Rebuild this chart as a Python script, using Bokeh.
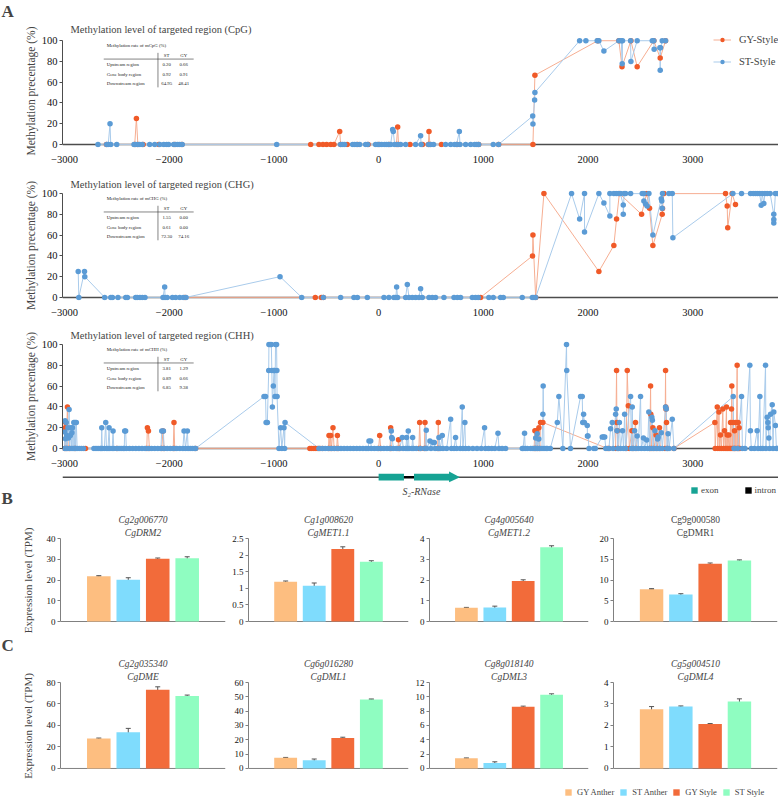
from bokeh.plotting import figure
from bokeh.layouts import column, row
from bokeh.models import (Range1d, FactorRange, Span, Label, Legend, LegendItem, Title,
                          Whisker, TeeHead, ColumnDataSource, FixedTicker, NumeralTickFormatter)
from bokeh.embed import file_html
from bokeh.resources import INLINE
from bokeh.core.properties import value

SERIF = "Liberation Serif"
AX = "#4d4d4d"
GY_PT, GY_LN = "#F05A28", "#F6AE92"
ST_PT, ST_LN = "#5B9BD5", "#A9CBEB"
NAN = float("nan")

# ---------------- methylation data: (position in bp, methylation %) ----------------
cpg_st = [(-2681, 0), (-2598, 0), (-2583, 0), (-2566, 20), (-2559, 0), (-2502, 0),
          (-2337, 0), (-2321, 0), (-2302, 0), (-2283, 0), (-2258, 0), (-2187, 0), (-2139, 0),
          (-2091, 0), (-2053, 0), (-2025, 0), (-2006, 0), (-1958, 0), (-1939, 0), (-1920, 0),
          (-1900, 0), (-1876, 0), (-974, 0), (-363, 0), (-344, 0), (-325, 0), (-248, 0), (-229, 0),
          (-210, 0), (-181, 0), (-124, 0), (-105, 0), (-29, 0), (-10, 0), (10, 0), (29, 0), (57, 0),
          (76, 0), (95, 0), (115, 0), (134, 14.3), (140, 12.5), (153, 0), (181, 0), (210, 0), (258, 0),
          (353, 0), (401, 8.3), (406, 0), (478, 0), (497, 0), (525, 0), (640, 0), (688, 0), (726, 0),
          (745, 0), (771, 12.5), (777, 0), (831, 0), (879, 0), (917, 0), (936, 0), (955, 0), (1095, 0),
          (1146, 0), (1472, 27.3), (1474, 19.7), (1490, 42.7), (1493, 50), (1920, 100), (1980, 100),
          (2088, 100), (2104, 100), (2152, 90), (2295, 100), (2318, 100), (2327, 77.8), (2330, 100),
          (2407, 100), (2410, 80), (2470, 100), (2614, 100), (2629, 100), (2632, 91.7), (2687, 93.3),
          (2690, 71.4), (2693, 93.3), (2709, 100), (2741, 100)]
cpg_gy = [(-2600, 0), (-2330, 0), (-2314, 25), (-2300, 0), (-2250, 0), (-2100, 0), (-1950, 0),
          (-1880, 0), (-649, 0), (-570, 0), (-532, 0), (-497, 0), (-458, 0), (-427, 0), (-372, 12.5),
          (-363, 0), (-300, 0), (-200, 0), (-100, 0), (0, 0), (100, 0), (170, 0), (182, 16.7), (190, 0),
          (300, 0), (420, 0), (475, 0), (481, 12.5), (490, 0), (600, 0), (750, 0), (955, 0), (1146, 0),
          (1474, 0), (1493, 66.7), (2094, 100), (2295, 100), (2325, 75), (2410, 100), (2470, 75),
          (2629, 100), (2690, 83.3), (2741, 100)]

chg_st = [(-2870, 25), (-2864, 0), (-2810, 25), (-2807, 20), (-2617, 0), (-2559, 0), (-2543, 0),
          (-2490, 0), (-2416, 0), (-2400, 0), (-2321, 0), (-2305, 0), (-2280, 0), (-2257, 0), (-2232, 0),
          (-2060, 0), (-2044, 10), (-2040, 0), (-2020, 0), (-1970, 0), (-1939, 0), (-1900, 0), (-1865, 0),
          (-1840, 0), (-942, 20), (-735, 0), (-528, 0), (-363, 0), (-236, 0), (-203, 0), (-108, 0),
          (51, 0), (98, 0), (146, 0), (165, 0), (172, 10), (181, 0), (258, 0), (274, 12.5), (290, 0),
          (322, 0), (353, 0), (385, 0), (401, 8.3), (417, 0), (481, 0), (513, 0), (544, 0), (624, 0),
          (720, 0), (752, 0), (783, 0), (895, 0), (926, 0), (952, 0), (1053, 0), (1095, 0), (1165, 0),
          (1191, 0), (1372, 0), (1468, 0), (1484, 0), (1500, 0), (1843, 100), (1920, 75.6), (1967, 100),
          (1967, 62.9), (2104, 100), (2152, 91), (2209, 78.4), (2209, 100), (2247, 100), (2270, 100),
          (2290, 100), (2310, 100), (2337, 89), (2337, 80), (2345, 100), (2359, 100), (2407, 100),
          (2518, 100), (2534, 100), (2534, 93), (2550, 90), (2565, 88), (2582, 100), (2620, 60),
          (2700, 95), (2705, 93), (2709, 86), (2712, 100), (2773, 100), (2805, 100), (2811, 57.5),
          (3384, 100), (3467, 100), (3553, 100), (3580, 100), (3600, 100), (3620, 100), (3640, 100),
          (3655, 88.9), (3665, 100), (3680, 90.5), (3690, 100), (3712, 100), (3740, 100), (3775, 80),
          (3775, 75), (3775, 71.7), (3790, 100), (3807, 100)]
chg_gy = [(-1850, 0), (-605, 0), (-547, 0), (-528, 0), (974, 0), (1470, 40), (1474, 60), (1500, 0),
          (1579, 100), (2104, 25), (2247, 50), (2273, 75.6), (2300, 100), (2512, 80), (2560, 100),
          (2588, 86), (2620, 50), (2709, 80), (2712, 85.7), (2725, 100), (3314, 100), (3330, 88),
          (3335, 67), (3377, 100), (3409, 89.5)]

chh_st = [(-3000, 0), (-2998, 15.7), (-2995, 26.7), (-2992, 9.4), (-2988, 0), (-2985, 25), (-2980, 12.5),
          (-2975, 0), (-2968, 20), (-2963, 10), (-2957, 37.5), (-2952, 0), (-2945, 12.5), (-2940, 20),
          (-2935, 0), (-2930, 15), (-2925, 20), (-2920, 0), (-2912, 25), (-2908, 0), (-2900, 25),
          (-2895, 0), (-2888, 25), (-2880, 0), (-2860, 0), (-2840, 0), (-2820, 0), (-2720, 0), (-2700, 0),
          (-2680, 0), (-2660, 0), (-2650, 0), (-2645, 20), (-2640, 0), (-2620, 0), (-2607, 25), (-2600, 0),
          (-2585, 0), (-2575, 20), (-2568, 0), (-2545, 0), (-2537, 16.7), (-2530, 0), (-2500, 0),
          (-2480, 0), (-2460, 0), (-2440, 0), (-2430, 0), (-2426, 16.7), (-2417, 16.7), (-2410, 0),
          (-2380, 0), (-2350, 0), (-2320, 0), (-2290, 0), (-2260, 0), (-2230, 0), (-2200, 0), (-2170, 0),
          (-2140, 0), (-2110, 0), (-2080, 0), (-2072, 16.7), (-2056, 16.7), (-2050, 0), (-2020, 0),
          (-1990, 0), (-1960, 0), (-1930, 0), (-1900, 0), (-1870, 0), (-1859, 16.7), (-1845, 0),
          (-1827, 16.7), (-1820, 0), (-1800, 0), (-1780, 0), (-1760, 0), (-1748, 0), (-1095, 50),
          (-1080, 50), (-1075, 25), (-1063, 25), (-1050, 75), (-1048, 100), (-1035, 100), (-1025, 100),
          (-1020, 75), (-1015, 40), (-1006, 60), (-1000, 75), (-995, 75), (-990, 50), (-985, 100),
          (-975, 100), (-972, 75), (-970, 50), (-952, 0), (-936, 20), (-925, 0), (-904, 20), (-898, 0),
          (-894, 25), (-570, 0), (-540, 0), (-510, 0), (-480, 0), (-450, 0), (-420, 0), (-390, 0),
          (-360, 0), (-330, 0), (-300, 0), (-270, 0), (-240, 0), (-210, 0), (-180, 0), (-150, 0),
          (-120, 0), (-100, 0), (-92, 7), (-76, 7), (-70, 0), (-40, 0), (-10, 0), (20, 0), (50, 0),
          (80, 0), (110, 0), (121, 16.7), (125, 10.4), (131, 9.4), (140, 0), (170, 0), (200, 0),
          (226, 10.4), (235, 0), (260, 0), (267, 10.4), (275, 0), (283, 16.7), (290, 0), (318, 0),
          (325, 10.4), (333, 0), (360, 0), (400, 0), (440, 0), (455, 17.4), (460, 0), (490, 7), (500, 0),
          (520, 5.6), (532, 5.6), (540, 0), (570, 0), (576, 10.4), (590, 0), (608, 12.5), (615, 0),
          (650, 0), (688, 28), (695, 0), (720, 0), (735, 10.4), (745, 0), (780, 0), (799, 40), (805, 0),
          (824, 25), (830, 0), (860, 0), (900, 0), (940, 0), (980, 0), (1012, 20), (1020, 0), (1050, 0),
          (1080, 0), (1110, 0), (1140, 14.6), (1150, 0), (1180, 0), (1213, 0), (1372, 0), (1380, 0),
          (1394, 14.6), (1400, 0), (1420, 0), (1452, 0), (1470, 0), (1490, 0), (1500, 10), (1505, 0),
          (1515, 14), (1520, 0), (1530, 9), (1540, 0), (1560, 0), (1569, 33), (1572, 60), (1580, 0),
          (1600, 0), (1611, 0), (1640, 0), (1707, 25), (1722, 50), (1760, 0), (1795, 100), (1797, 75),
          (1833, 0), (1929, 50), (1945, 50), (1950, 25), (1958, 33), (1965, 25), (1993, 22), (1995, 12),
          (2000, 12), (2010, 0), (2056, 0), (2070, 0), (2136, 11), (2148, 11), (2160, 11), (2170, 0),
          (2200, 0), (2216, 19), (2232, 25), (2240, 0), (2264, 33), (2270, 38), (2278, 17), (2285, 0),
          (2300, 25), (2310, 0), (2330, 17), (2340, 0), (2350, 33), (2360, 0), (2407, 50), (2415, 0),
          (2423, 40), (2430, 0), (2445, 17), (2452, 0), (2470, 12), (2480, 0), (2502, 50), (2510, 0),
          (2530, 10), (2540, 0), (2560, 8), (2570, 0), (2581, 35), (2590, 0), (2610, 30), (2615, 27),
          (2620, 0), (2640, 17), (2650, 0), (2665, 9), (2670, 11), (2680, 0), (2700, 15), (2710, 0),
          (2741, 40), (2748, 38), (2755, 0), (2765, 14), (2775, 0), (2805, 28), (2821, 0), (3387, 50),
          (3395, 0), (3430, 0), (3467, 50), (3475, 0), (3500, 0), (3546, 80), (3552, 17), (3560, 0),
          (3590, 0), (3616, 17), (3625, 0), (3642, 50), (3650, 0), (3670, 0), (3696, 80), (3700, 0),
          (3712, 30), (3718, 25), (3722, 20), (3728, 10), (3735, 0), (3744, 33), (3760, 42), (3768, 0),
          (3775, 35), (3791, 22), (3800, 0), (3807, 0)]
chh_gy = [(-3000, 0), (-2995, 20), (-2990, 25), (-2985, 0), (-2973, 40), (-2965, 0), (-2950, 0),
          (-2900, 0), (-2800, 0), (-2500, 0), (-2215, 0), (-2209, 20), (-2199, 16.7), (-2190, 0),
          (-2072, 0), (-2060, 16.7), (-2050, 0), (-1962, 0), (-1955, 25), (-1948, 0), (-1750, 0),
          (-657, 0), (-640, 0), (-620, 0), (-600, 0), (-580, 0), (-560, 0), (-535, 0), (-480, 0),
          (-474, 12.5), (-465, 0), (-458, 12.5), (-450, 0), (-436, 20), (-425, 0), (-400, 0),
          (-394, 12.5), (-385, 0), (0, 0), (10, 12.5), (20, 0), (110, 0), (115, 20), (120, 0), (185, 0),
          (190, 8.3), (200, 0), (385, 0), (392, 25), (400, 0), (436, 0), (443, 25), (450, 0), (563, 0),
          (570, 25), (578, 0), (1485, 0), (1493, 17), (1500, 0), (1510, 17), (1520, 0), (1531, 20),
          (1540, 0), (1547, 25), (1569, 25), (2184, 0), (2200, 0), (2264, 0), (2273, 75), (2276, 25),
          (2280, 17), (2290, 0), (2365, 0), (2375, 75), (2385, 41), (2395, 0), (2420, 17), (2430, 0),
          (2454, 25), (2462, 0), (2590, 0), (2598, 60), (2600, 33), (2605, 0), (2620, 20), (2630, 0),
          (2650, 13), (2660, 0), (2683, 20), (2690, 0), (2735, 0), (2741, 75), (2743, 40), (2745, 38),
          (2750, 25), (2760, 0), (2821, 0), (3212, 25), (3215, 0), (3235, 40), (3240, 0), (3251, 35),
          (3258, 0), (3266, 13), (3275, 0), (3288, 38), (3295, 0), (3304, 17), (3312, 0), (3323, 40),
          (3326, 0), (3330, 13), (3338, 0), (3346, 13), (3354, 0), (3362, 25), (3366, 0), (3371, 38),
          (3374, 60), (3380, 0), (3387, 25), (3395, 0), (3400, 17), (3404, 0), (3409, 25), (3415, 0),
          (3425, 80), (3430, 0), (3435, 25), (3440, 0), (3444, 20), (3450, 0)]

rate_tables = {
    "CpG": [("Upstream region", "0.20", "0.66"), ("Gene body region", "0.92", "0.91"),
            ("Downstream region", "64.95", "48.41")],
    "CHG": [("Upstream region", "1.55", "0.00"), ("Gene body region", "0.61", "0.00"),
            ("Downstream region", "72.30", "74.16")],
    "CHH": [("Upstream region", "3.81", "1.29"), ("Gene body region", "0.89", "0.66"),
            ("Downstream region", "6.85", "9.38")],
}
meth_x_ticks = [-3000, -2000, -1000, 0, 1000, 2000, 3000]
meth_y_ticks = [0, 20, 40, 60, 80, 100]

# gene structure (bp)
exon_start = [0, 338]
exon_end = [242, 777]
intron_start = [242]
intron_end = [338]
gene_label = "S\u2082-RNase"

# ---------------- expression data (TPM) ----------------
samples = ["GY Anther", "ST Anther", "GY Style", "ST Style"]
sample_colors = ["#FDBE80", "#7FDCFD", "#F26B3A", "#8FFDC1"]

genes_B = [("Cg2g006770", "CgDRM2", True), ("Cg1g008620", "CgMET1.1", True),
           ("Cg4g005640", "CgMET1.2", True), ("Cg9g000580", "CgDMR1", False)]
vals_B = [[21.8, 20.1, 30.2, 30.5], [1.20, 1.08, 2.18, 1.80], [0.66, 0.67, 1.95, 3.58], [7.8, 6.5, 13.9, 14.7]]
errs_B = [[0.3, 1.0, 0.4, 0.7], [0.02, 0.08, 0.07, 0.03], [0.02, 0.07, 0.06, 0.07], [0.12, 0.2, 0.2, 0.15]]
ymax_B = [40, 2.5, 4, 20]
ticks_B = [[0, 10, 20, 30, 40], [0, 0.5, 1, 1.5, 2, 2.5], [0, 1, 2, 3, 4], [0, 5, 10, 15, 20]]

genes_C = [("Cg2g035340", "CgDME", True), ("Cg6g016280", "CgDML1", True),
           ("Cg8g018140", "CgDML3", True), ("Cg5g004510", "CgDML4", True)]
vals_C = [[27.8, 33.8, 73.2, 67.5], [7.4, 5.8, 21.3, 48.2], [1.42, 0.78, 8.6, 10.3], [2.76, 2.88, 2.07, 3.12]]
errs_C = [[0.5, 3.5, 2.8, 0.8], [0.3, 0.8, 0.5, 0.3], [0.05, 0.15, 0.1, 0.12], [0.12, 0.03, 0.02, 0.12]]
ymax_C = [80, 60, 12, 4]
ticks_C = [[0, 20, 40, 60, 80], [0, 10, 20, 30, 40, 50, 60], [0, 2, 4, 6, 8, 10, 12], [0, 1, 2, 3, 4]]

# ---------------- layout constants ----------------
W = 778
M_LEFT = 62
X_RANGE = (-3020, 3820)
TBL = dict(x_label=-2598, x_st=-2025, x_gy=-1862, x_v=-2108, x0=-2626, x1=-1767,
           y_title=95.2, y_head=86.0, y_rows=[76.8, 67.6, 58.6], y_hline=82.3, y_v0=88.3, y_v1=55.0)


def bare_fig(width, height, x_range=None, y_range=None):
    f = figure(width=width, height=height, x_range=x_range or Range1d(0, 1), y_range=y_range or Range1d(0, 1),
               title=None, x_axis_type=None, y_axis_type=None, output_backend="svg",
               toolbar_location=None, min_border=0, min_border_left=0, min_border_right=0,
               min_border_top=0, min_border_bottom=0)
    f.outline_line_color = None
    return f


def letter_label(letter, x, y):
    return Label(x=x, y=y, x_units="screen", y_units="screen", text=letter, text_font=SERIF,
                 text_font_size="17px", text_font_style="bold", text_baseline="middle")


def meth_fig(ctx, st, gy, height, top, bottom, y_top=103, title_standoff=2, legend=False):
    p = figure(width=W, height=height, x_range=Range1d(*X_RANGE), y_range=Range1d(-3, y_top),
               title=f"Methylation level of targeted region ({ctx})",
               output_backend="svg", toolbar_location=None,
               min_border_left=M_LEFT, min_border_right=0, min_border_top=top, min_border_bottom=bottom)
    p.title.text_font = SERIF
    p.title.text_font_size = "10.5px"
    p.title.text_font_style = "normal"
    p.title.align = "left"
    p.title.offset = 8
    p.title.standoff = title_standoff
    p.outline_line_color = None
    p.xgrid.visible = False
    p.ygrid.visible = False

    xa = p.xaxis[0]
    xa.ticker = FixedTicker(ticks=meth_x_ticks)
    xa.axis_line_color = None
    xa.major_tick_line_color = None
    xa.minor_tick_line_color = None
    xa.major_label_standoff = 2
    xa.major_label_text_font = SERIF
    xa.major_label_text_font_size = "10.5px"
    xa.major_label_text_color = "#111111"

    ya = p.yaxis[0]
    ya.ticker = FixedTicker(ticks=meth_y_ticks)
    ya.bounds = (0, 100)
    ya.axis_line_color = AX
    ya.major_tick_line_color = AX
    ya.major_tick_out = 3
    ya.major_tick_in = 0
    ya.minor_tick_line_color = None
    ya.major_label_standoff = 2
    ya.major_label_text_font = SERIF
    ya.major_label_text_font_size = "10.5px"
    ya.major_label_text_color = "#111111"
    ya.axis_label = "Methylation precentage (%)"
    ya.axis_label_text_font = SERIF
    ya.axis_label_text_font_size = "11.5px"
    ya.axis_label_text_font_style = "normal"
    ya.axis_label_standoff = 2

    p.add_layout(Span(location=0, dimension="width", line_color=AX, line_width=1.5, level="underlay"))

    sx = [a for a, _ in st]; sy = [b for _, b in st]
    gx = [a for a, _ in gy]; gyv = [b for _, b in gy]
    l_gy = p.line(gx, gyv, line_color=GY_LN, line_width=1)
    l_st = p.line(sx, sy, line_color=ST_LN, line_width=1)
    c_gy = p.scatter(gx, gyv, size=5.5, fill_color=GY_PT, line_color=None)
    c_st = p.scatter(sx, sy, size=5.5, fill_color=ST_PT, line_color=None)

    rows = rate_tables[ctx]
    fs = "4.8px"
    kw = dict(text_font=value(SERIF), text_font_size=fs, text_baseline="middle", text_color="#222222")
    p.text(x=[TBL["x_label"]], y=[TBL["y_title"]], text=[f"Methylation rate of m{ctx} (%)"],
           text_align="left", **kw)
    p.text(x=[TBL["x_st"], TBL["x_gy"]], y=[TBL["y_head"]] * 2, text=["ST", "GY"], text_align="center", **kw)
    p.text(x=[TBL["x_label"]] * 3, y=TBL["y_rows"], text=[r[0] for r in rows], text_align="left", **kw)
    p.text(x=[TBL["x_st"]] * 3, y=TBL["y_rows"], text=[r[1] for r in rows], text_align="center", **kw)
    p.text(x=[TBL["x_gy"]] * 3, y=TBL["y_rows"], text=[r[2] for r in rows], text_align="center", **kw)
    p.segment(x0=[TBL["x0"], TBL["x_v"]], y0=[TBL["y_hline"], TBL["y_v0"]],
              x1=[TBL["x1"], TBL["x_v"]], y1=[TBL["y_hline"], TBL["y_v1"]],
              line_color="#333333", line_width=0.6)

    if legend:
        leg = Legend(items=[LegendItem(label="GY-Style", renderers=[l_gy, c_gy]),
                            LegendItem(label="ST-Style", renderers=[l_st, c_st])],
                     location=(651, 80), orientation="vertical", glyph_width=18, glyph_height=11,
                     label_height=11, label_standoff=8, spacing=11, padding=0, margin=0,
                     background_fill_alpha=0, border_line_color=None,
                     label_text_font=SERIF, label_text_font_size="10.5px")
        p.add_layout(leg)
    return p


# panel letter A (own full-width strip)
fa = bare_fig(W, 20)
fa.add_layout(letter_label("A", 1, 9.5))

# CpG frame reaches a little higher (to 106 %) so that the legend is not clipped
p_cpg = meth_fig("CpG", cpg_st, cpg_gy, 145, 14, 16, y_top=106, title_standoff=0, legend=True)
p_chg = meth_fig("CHG", chg_st, chg_gy, 153, 25, 16)
p_chh = meth_fig("CHH", chh_st, chh_gy, 151, 23, 16)

# ---------------- gene track: letter B strip + track with the same bp scale ----------------
gb = bare_fig(M_LEFT, 43)
gb.add_layout(letter_label("B", 1, 14.5))

g = bare_fig(W - M_LEFT, 43, x_range=Range1d(*X_RANGE), y_range=Range1d(0, 43))
LINE_Y, BOX_B, BOX_T, HEAD_B, HEAD_T, INT_B, INT_T = 35.3, 32.0, 38.7, 30.3, 41.0, 34.0, 36.5
HEAD_LEN = 104
TEAL = "#16A394"
g.add_layout(Span(location=LINE_Y, dimension="width", line_color=AX, line_width=1.5, level="underlay"))
ex_r = g.quad(left=[exon_start[0]], right=[exon_end[0]], bottom=[BOX_B], top=[BOX_T],
              fill_color=TEAL, line_color=None)
bx = exon_end[1] - HEAD_LEN
g.patch(x=[exon_start[1], bx, bx, exon_end[1], bx, bx, exon_start[1]],
        y=[BOX_B, BOX_B, HEAD_B, LINE_Y, HEAD_T, BOX_T, BOX_T], fill_color=TEAL, line_color=None)
in_r = g.quad(left=intron_start, right=intron_end, bottom=[INT_B], top=[INT_T],
              fill_color="black", line_color=None)
g.add_layout(Label(x=(exon_start[0] + exon_end[1]) / 2 + 20, y=21.3, text=gene_label, text_font=SERIF,
                   text_font_size="10px", text_font_style="italic", text_align="center",
                   text_baseline="middle"))
g.add_layout(Legend(items=[LegendItem(label="exon", renderers=[ex_r]),
                           LegendItem(label="intron", renderers=[in_r])],
                    location=(690 - M_LEFT, 17), orientation="horizontal", glyph_width=8, glyph_height=8,
                    label_height=10, label_width=10, label_standoff=3, spacing=25, padding=0, margin=0,
                    background_fill_alpha=0, border_line_color=None,
                    label_text_font=SERIF, label_text_font_size="9px"))

# ---------------- bar panels ----------------
COL_W = [228, 182, 182, 186]
COL_BL = [60, 20, 19, 21]
COL_BR = [3, 2, 4, 1]


def bar_fig(i, gene, vals, errs, ymax, ticks, height, top, bottom, ylabel):
    p = figure(width=COL_W[i], height=height, x_range=FactorRange(factors=samples, range_padding=0.4),
               y_range=Range1d(-ymax * 0.012, ymax), title=None, x_axis_type=None,
               output_backend="svg", toolbar_location=None,
               min_border_left=COL_BL[i], min_border_right=COL_BR[i],
               min_border_top=top, min_border_bottom=bottom)
    p.outline_line_color = None
    p.grid.visible = False
    src = ColumnDataSource(dict(x=samples, top=vals, color=sample_colors,
                                upper=[v + e for v, e in zip(vals, errs)],
                                lower=[v - e for v, e in zip(vals, errs)]))
    p.add_layout(Span(location=0, dimension="width", line_color="#808080", line_width=1, level="underlay"))
    p.vbar(x="x", top="top", bottom=0, width=0.8, fill_color="color", line_color=None, source=src)
    p.add_layout(Whisker(source=src, base="x", upper="upper", lower="lower", line_color="#555555",
                         line_width=1,
                         upper_head=TeeHead(size=5, line_color="#555555", line_width=1),
                         lower_head=TeeHead(size=5, line_color="#555555", line_width=1)))
    style = "italic" if gene[2] else "normal"
    p.add_layout(Title(text=gene[1], align="center", text_font=SERIF, text_font_size="9.5px",
                       text_font_style=style, standoff=1), "above")
    p.add_layout(Title(text=gene[0], align="center", text_font=SERIF, text_font_size="9.5px",
                       text_font_style=style, standoff=1), "above")
    ya = p.yaxis[0]
    ya.ticker = FixedTicker(ticks=ticks)
    ya.bounds = (0, ymax)
    ya.formatter = NumeralTickFormatter(format="0.[0]")
    ya.axis_line_color = "#808080"
    ya.major_tick_line_color = "#808080"
    ya.major_tick_out = 3
    ya.major_tick_in = 0
    ya.minor_tick_line_color = None
    ya.major_label_standoff = 2
    ya.major_label_text_font = SERIF
    ya.major_label_text_font_size = "9px"
    ya.major_label_text_color = "#111111"
    if ylabel:
        ya.axis_label = "Expression level (TPM)"
        ya.axis_label_text_font = SERIF
        ya.axis_label_text_font_size = "11px"
        ya.axis_label_text_font_style = "normal"
        ya.axis_label_standoff = 10
    return p


row_B = row([bar_fig(i, genes_B[i], vals_B[i], errs_B[i], ymax_B[i], ticks_B[i], 124, 24, 14, i == 0)
             for i in range(4)], spacing=0)

fc = bare_fig(W, 19)
fc.add_layout(letter_label("C", 1, 10))

row_C = row([bar_fig(i, genes_C[i], vals_C[i], errs_C[i], ymax_C[i], ticks_C[i], 126, 27, 12, i == 0)
             for i in range(4)], spacing=0)

# ---------------- bottom legend ----------------
lf = bare_fig(W, 16)
items = []
for s, c in zip(samples, sample_colors):
    r = lf.quad(left=[NAN], right=[NAN], top=[NAN], bottom=[NAN], fill_color=c, line_color=None)
    items.append(LegendItem(label=s, renderers=[r]))
lf.add_layout(Legend(items=items, location=(564, 0), orientation="horizontal", glyph_width=8,
                     glyph_height=8, label_height=9, label_width=10, label_standoff=5, spacing=5,
                     padding=0, margin=0, background_fill_alpha=0, border_line_color=None,
                     label_text_font=SERIF, label_text_font_size="8.5px"))

layout = column([row([fa]), p_cpg, p_chg, p_chh, row([gb, g], spacing=0), row_B, row([fc]), row_C,
                 row([lf])], spacing=0)
open("out.html", "w").write(file_html(layout, INLINE))
